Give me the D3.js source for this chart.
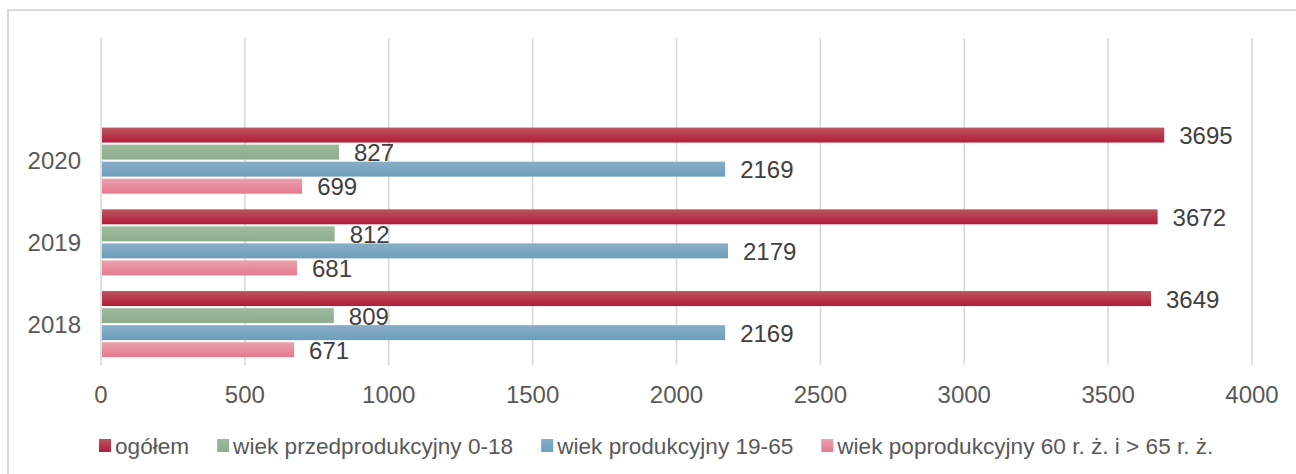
<!DOCTYPE html>
<html>
<head>
<meta charset="utf-8">
<script src="https://cdn.jsdelivr.net/npm/d3@7"></script>
<style>
    html, body { margin: 0; padding: 0; background: #fff; }
    svg { display: block; font-family: "Liberation Sans", Arial, sans-serif; }
</style>
</head>
<body>
<div id="chart"></div>
<script>
// Data
const years = ['2018', '2019', '2020'];
const seriesNames = [
    'ogółem',
    'wiek przedprodukcyjny 0-18',
    'wiek produkcyjny 19-65',
    'wiek poprodukcyjny 60 r. ż. i > 65 r. ż.'
];
const ogolem = [3649, 3672, 3695];
const przedprodukcyjny = [809, 812, 827];
const produkcyjny = [2169, 2179, 2169];
const poprodukcyjny = [671, 681, 699];
const xTicks = [0, 500, 1000, 1500, 2000, 2500, 3000, 3500, 4000];

// Gradient colours per series (top, bottom)
const colors = [
    ['#b9555f', '#b31c39'],
    ['#9eba9e', '#8cac8d'],
    ['#88aec7', '#6d9ebb'],
    ['#eaa1ad', '#e47a8e']
];

const seriesValues = [ogolem, przedprodukcyjny, produkcyjny, poprodukcyjny];

const width = 1296, height = 474;

const svg = d3.select('#chart').append('svg')
    .attr('width', width)
    .attr('height', height);

const defs = svg.append('defs');
colors.forEach((c, i) => {
    const grad = defs.append('linearGradient')
        .attr('id', 'grad' + i)
        .attr('x1', 0).attr('y1', 0).attr('x2', 0).attr('y2', 1);
    grad.append('stop').attr('offset', '0%').attr('stop-color', c[0]);
    grad.append('stop').attr('offset', '100%').attr('stop-color', c[1]);
});

// outer chart border
svg.append('rect')
    .attr('x', 8).attr('y', 10)
    .attr('width', 1300).attr('height', 480)
    .attr('fill', 'none')
    .attr('stroke', '#d9d9d9')
    .attr('stroke-width', 2);

const x = d3.scaleLinear().domain([0, 4000]).range([101, 1252]);

// an empty slot above 2020, as in the original
const y = d3.scaleBand()
    .domain(['', ...years.slice().reverse()])
    .range([38, 365]);

const inner = d3.scaleBand()
    .domain(d3.range(seriesNames.length))
    .range([0, y.bandwidth()])
    .paddingInner(0.12)
    .paddingOuter(0.46);

// gridlines
svg.append('g')
    .selectAll('line')
    .data(xTicks)
    .join('line')
    .attr('x1', d => x(d)).attr('x2', d => x(d))
    .attr('y1', 38).attr('y2', 365)
    .attr('stroke', '#d9d9d9')
    .attr('stroke-width', 1.6);

// tick labels
svg.append('g')
    .selectAll('text')
    .data(xTicks)
    .join('text')
    .attr('x', d => x(d))
    .attr('y', 403)
    .attr('text-anchor', 'middle')
    .attr('font-size', 24)
    .attr('fill', '#595959')
    .text(d => d);

// year labels
svg.append('g')
    .selectAll('text')
    .data(years)
    .join('text')
    .attr('x', 81)
    .attr('y', d => y(d) + y.bandwidth() / 2 + 8.5)
    .attr('text-anchor', 'end')
    .attr('font-size', 24)
    .attr('fill', '#595959')
    .text(d => d);

// bars
const groups = svg.append('g')
    .selectAll('g')
    .data(years)
    .join('g')
    .attr('transform', d => `translate(0,${y(d)})`);

groups.selectAll('rect')
    .data((d, yi) => seriesValues.map((vals, si) => ({ si, v: vals[yi] })))
    .join('rect')
    .attr('x', x(0) + 1)
    .attr('y', d => inner(d.si))
    .attr('width', d => x(d.v) - x(0) - 1)
    .attr('height', inner.bandwidth())
    .attr('fill', d => `url(#grad${d.si})`);

groups.selectAll('text')
    .data((d, yi) => seriesValues.map((vals, si) => ({ si, v: vals[yi] })))
    .join('text')
    .attr('x', d => x(d.v) + 15)
    .attr('y', d => inner(d.si) + inner.bandwidth() / 2 + 9)
    .attr('font-size', 24)
    .attr('fill', '#404040')
    .text(d => d.v);

// legend
const legend = svg.append('g').attr('transform', 'translate(0,446)');
const items = legend.selectAll('g')
    .data(seriesNames)
    .join('g');

items.append('rect')
    .attr('y', -7)
    .attr('width', 12).attr('height', 13)
    .attr('fill', (d, i) => `url(#grad${i})`);

items.append('text')
    .attr('x', 16)
    .attr('y', 7.5)
    .attr('font-size', 22.6)
    .attr('fill', '#595959')
    .text(d => d);

let cursor = 99;
items.each(function () {
    const g = d3.select(this);
    g.attr('transform', `translate(${cursor},0)`);
    const w = g.select('text').node().getComputedTextLength();
    cursor += 16 + w + 28;
});
</script>
</body>
</html>
